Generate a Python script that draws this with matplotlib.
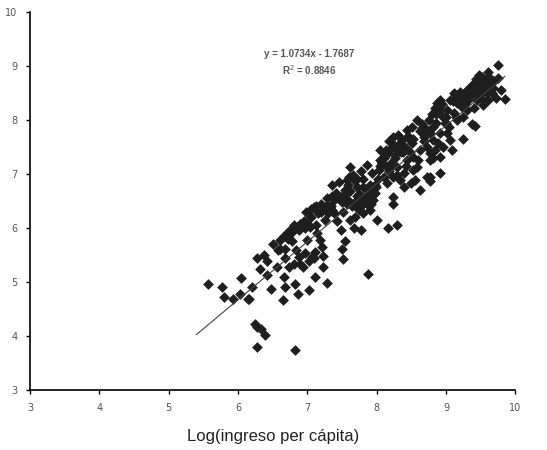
import numpy as np
import matplotlib
matplotlib.use("Agg")
import matplotlib.pyplot as plt

# log income per capita (x) vs log variable (y)
log_ingreso = [
    5.56, 5.77, 5.80, 5.93, 6.05, 6.03, 6.16, 6.20, 6.15, 6.24, 6.27, 6.33, 6.39, 6.27, 6.82,
    7.88, 6.47, 6.65, 6.68, 6.82, 6.86, 7.03, 7.28, 7.11, 7.22, 7.22, 7.09, 7.51, 7.50, 7.54,
    7.48, 7.67, 7.77, 8.00, 8.16, 8.30, 8.23, 8.23, 8.63, 8.77, 8.92, 9.09, 9.25, 9.42, 9.37,
    9.40, 9.54, 9.85, 9.80, 9.75, 9.75, 9.61, 9.47,
    6.27, 6.37, 6.42, 6.32, 6.42, 6.56, 6.58, 6.61, 6.68, 6.70, 6.75, 6.68, 6.73, 6.66, 6.81,
    6.90, 6.88, 6.94, 7.02, 7.07, 6.97, 7.00, 6.81, 6.90, 6.97, 7.04, 6.95, 6.88, 7.14, 7.18,
    7.21, 7.11, 7.09, 7.16, 7.23, 7.26, 7.30, 7.33, 7.38, 7.41, 7.48, 7.38, 7.43, 7.52, 7.57,
    7.59, 7.59, 7.62, 7.57, 7.67, 7.71, 7.67, 7.74, 7.69, 7.62, 7.76, 7.81, 7.86, 7.86, 7.91,
    7.81, 7.95, 7.93, 7.98, 7.86, 7.93, 8.03, 8.05, 8.05, 8.10, 8.15, 8.15, 8.17, 8.22, 8.24,
    8.31, 8.29, 8.29, 8.24, 8.34, 8.39, 8.44, 8.41, 8.36, 8.44, 8.51, 8.51, 8.53, 8.53, 8.58,
    8.63, 8.58, 8.65, 8.68, 8.72, 8.77, 8.82, 8.82, 8.77, 8.87, 8.92, 8.96, 8.92, 8.89, 8.82,
    8.72, 8.77, 9.01, 9.06, 9.04, 9.01, 9.06, 9.11, 9.16, 9.16, 9.23, 9.20, 9.27, 9.32, 9.35,
    9.40, 9.45, 9.50, 9.52, 9.57, 9.59, 9.64, 9.45, 9.61, 9.66, 9.69, 9.30, 9.25, 9.11, 8.92,
    8.84,
    6.50, 6.60, 6.72, 6.78, 6.84, 6.98, 7.06, 7.12, 7.20, 7.28, 7.34, 7.44, 7.46, 7.55, 7.64,
    7.72, 7.78, 7.84, 7.90, 7.97, 8.02, 8.08, 8.12, 8.19, 8.26, 8.22, 8.49, 8.56, 8.39, 8.47,
    8.60, 8.70, 8.96, 8.92, 8.77, 8.98, 9.14, 9.20, 9.28, 9.36, 9.44, 9.50, 9.56, 9.62, 9.68,
    9.72, 9.38, 9.48, 9.00, 8.85, 8.66, 8.45, 8.35, 8.18, 8.07, 7.99, 7.80, 7.70, 7.60, 7.36,
    6.66, 6.72, 6.78, 6.84, 6.92, 7.00, 7.05, 7.12, 7.20, 7.28, 7.35, 7.36, 7.44, 7.50, 7.55,
    7.62, 7.64, 7.70, 7.74, 7.78, 7.83, 7.88, 7.92, 7.96, 7.80, 7.72, 7.66, 8.05, 8.10, 8.14,
    8.20, 8.26, 8.32, 8.38, 8.42, 8.48, 8.52, 8.18, 8.30, 8.62, 8.70, 8.75, 8.80, 8.86, 8.90,
    8.95, 9.00, 8.68, 8.84, 9.10, 9.15, 9.22, 9.30, 9.34, 9.42, 9.48, 9.55, 9.60, 9.52, 9.44,
]
log_y = [
    4.97, 4.90, 4.73, 4.68, 5.07, 4.78, 4.68, 4.90, 4.68, 4.23, 4.17, 4.14, 4.02, 3.80, 3.74,
    5.15, 4.88, 4.67, 4.90, 4.97, 4.78, 4.85, 4.99, 5.10, 5.28, 5.48, 5.44, 5.42, 5.62, 5.75,
    5.96, 5.99, 5.96, 6.15, 5.99, 6.05, 6.45, 6.58, 6.70, 6.86, 7.02, 7.44, 7.64, 7.89, 7.92,
    8.21, 8.27, 8.38, 8.55, 8.77, 9.01, 8.89, 8.83,
    5.44, 5.50, 5.38, 5.25, 5.13, 5.28, 5.59, 5.78, 5.62, 5.90, 5.96, 5.44, 5.28, 5.10, 5.34,
    5.34, 5.47, 5.28, 5.38, 5.47, 5.53, 5.78, 6.05, 6.08, 5.99, 6.02, 6.12, 5.96, 5.90, 5.78,
    5.65, 5.56, 6.39, 6.27, 6.33, 6.15, 6.27, 6.39, 6.52, 6.64, 6.58, 6.27, 6.12, 6.30, 6.45,
    6.52, 6.79, 7.13, 6.88, 6.88, 6.76, 6.45, 6.33, 6.21, 6.15, 6.52, 6.58, 6.70, 6.45, 6.33,
    6.27, 6.52, 6.70, 6.79, 7.16, 7.01, 7.07, 7.44, 7.26, 6.95, 6.83, 7.13, 7.38, 7.57, 7.69,
    7.72, 7.44, 7.13, 6.95, 6.89, 7.01, 7.26, 7.50, 7.63, 7.81, 7.87, 7.57, 7.32, 7.07, 7.13,
    7.44, 7.99, 7.93, 7.69, 7.50, 7.38, 7.63, 7.87, 7.75, 8.31, 8.18, 8.06, 7.75, 7.57, 7.29,
    6.95, 6.95, 7.75, 7.63, 7.87, 8.18, 8.37, 8.12, 8.31, 8.00, 8.24, 8.52, 8.46, 8.37, 8.55,
    8.49, 8.37, 8.55, 8.68, 8.74, 8.49, 8.61, 8.68, 8.37, 8.49, 8.71, 8.18, 8.06, 8.49, 8.37,
    8.21,
    5.70, 5.62, 5.85, 5.75, 5.60, 6.30, 6.20, 6.05, 6.45, 6.55, 6.40, 6.60, 6.85, 6.70, 6.95,
    6.60, 7.05, 6.55, 6.80, 6.65, 6.90, 7.20, 7.35, 7.10, 7.30, 7.50, 6.83, 6.89, 6.76, 7.65,
    7.25, 7.80, 7.50, 7.32, 7.26, 7.95, 8.05, 8.40, 8.30, 8.45, 8.50, 8.40, 8.60, 8.80, 8.58,
    8.40, 8.65, 8.45, 7.95, 8.10, 7.85, 7.70, 7.40, 7.60, 7.20, 6.75, 6.90, 6.40, 6.95, 6.80,
    5.85, 5.80, 5.92, 6.00, 6.04, 6.10, 6.35, 6.40, 6.30, 6.42, 6.33, 6.60, 6.55, 6.48, 6.62,
    6.68, 6.40, 6.50, 6.62, 6.40, 6.50, 6.60, 6.45, 6.62, 6.75, 6.90, 6.98, 7.15, 7.30, 7.45,
    7.20, 7.35, 7.55, 7.40, 7.15, 7.40, 7.65, 7.05, 6.98, 7.80, 7.85, 8.00, 8.10, 7.95, 8.25,
    8.30, 8.05, 7.60, 7.45, 8.35, 8.45, 8.40, 8.55, 8.45, 8.60, 8.45, 8.60, 8.70, 8.80, 8.75,
]

# trend line from the equation printed on the chart
pendiente = 1.0734
intercepto = -1.7687
rango_linea = [5.4, 9.85]
r2 = 0.8846

x_ticks = [3, 4, 5, 6, 7, 8, 9, 10]
y_ticks = [3, 4, 5, 6, 7, 8, 9, 10]

fig = plt.figure(figsize=(5.47, 4.5), dpi=100)
ax = fig.add_axes([0.055, 0.133, 0.887, 0.841])

ax.scatter(log_ingreso, log_y, marker='D', s=30, color='#1e1e1e', linewidths=0, zorder=2)

xl = np.array(rango_linea)
ax.plot(xl, pendiente * xl + intercepto, color='#444444', linewidth=0.8, zorder=3)

ax.text(7.02, 9.21, "y = 1.0734x - 1.7687", ha='center', va='center',
        fontsize=7, color='#555555', family='Liberation Sans', fontweight='bold')
ax.text(7.02, 8.92, "R$^2$ = %.4f" % r2, ha='center', va='center',
        fontsize=7, color='#555555', family='Liberation Sans', fontweight='bold')

ax.set_xlim(3, 10)
ax.set_ylim(3, 10)
ax.set_xticks(x_ticks)
ax.set_yticks(y_ticks)
ax.tick_params(direction='out', length=3, width=1, labelsize=7, labelcolor='#555555', pad=6)
for s in ['top', 'right']:
    ax.spines[s].set_visible(False)
for s in ['left', 'bottom']:
    ax.spines[s].set_linewidth(1.2)

ax.set_xlabel("Log(ingreso per cápita)", fontsize=12, family='Liberation Sans', color='#222222', labelpad=12)

plt.savefig("out.png", dpi=100)
